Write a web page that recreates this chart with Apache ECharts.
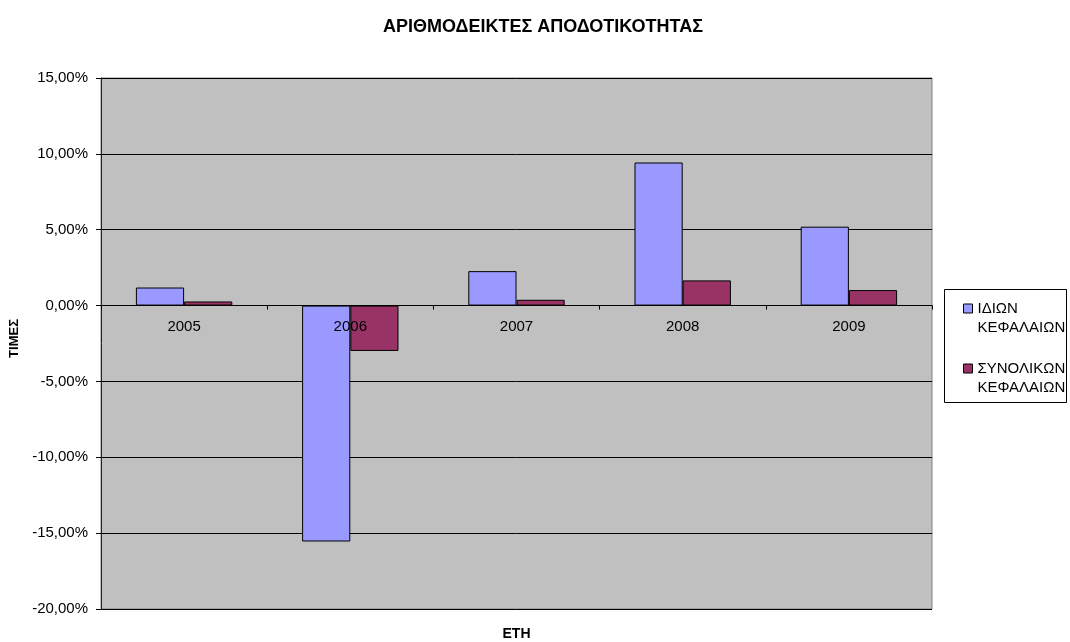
<!DOCTYPE html>
<html>
<head>
<meta charset="utf-8">
<script src="https://cdn.jsdelivr.net/npm/echarts@6/dist/echarts.min.js"></script>
<style>
  html, body { margin: 0; padding: 0; background: #fff; }
  #chart { width: 1070px; height: 642px; }
</style>
</head>
<body>
<div id="chart"></div>
<script>
// Return ratios per year (percent)
const years = ['2005', '2006', '2007', '2008', '2009'];
const equityReturn = [1.19, -15.55, 2.27, 9.43, 5.2];
const assetReturn = [0.27, -2.99, 0.38, 1.66, 1.02];
const seriesNames = ['ΙΔΙΩΝ\nΚΕΦΑΛΑΙΩΝ', 'ΣΥΝΟΛΙΚΩΝ\nΚΕΦΑΛΑΙΩΝ'];

const font = '"Liberation Sans", Arial, sans-serif';
const chart = echarts.init(document.getElementById('chart'));

// plot frame in pixels
const gridTop = 78, gridBottom = 33, chartH = 642;
const yMin = -20, yMax = 15;
// distance from the plot's bottom edge up to the zero line
const zeroLift = (chartH - gridBottom - gridTop) * (0 - yMin) / (yMax - yMin);

chart.setOption({
  animation: false,
  backgroundColor: '#ffffff',
  title: {
    text: 'ΑΡΙΘΜΟΔΕΙΚΤΕΣ ΑΠΟΔΟΤΙΚΟΤΗΤΑΣ',
    left: 538, top: 13, textAlign: 'center',
    textStyle: { fontFamily: font, fontSize: 18, fontWeight: 'bold', color: '#000' }
  },
  grid: {
    left: 101, right: 138, top: gridTop, bottom: gridBottom,
    containLabel: false,
    outerBoundsMode: 'none',
    show: true, backgroundColor: '#c0c0c0', borderColor: '#808080', borderWidth: 1
  },
  legend: {
    orient: 'vertical',
    left: 963, top: 280, padding: 0,
    itemWidth: 9, itemHeight: 9, itemGap: 3,
    icon: 'rect',
    // a blank leading line keeps the marker beside the first text line
    formatter: name => ' \n' + name,
    textStyle: { fontFamily: font, fontSize: 15, color: '#000', lineHeight: 19 },
    itemStyle: { borderColor: '#000', borderWidth: 1 }
  },
  graphic: [{
    type: 'rect',
    shape: { x: 944.5, y: 289.5, width: 122, height: 113 },
    style: { fill: 'none', stroke: '#000', lineWidth: 1 },
    z: -1
  }],
  xAxis: {
    type: 'category',
    data: years,
    z: 3,
    name: 'ΕΤΗ',
    nameLocation: 'middle',
    nameGap: 18,
    nameTextStyle: { fontFamily: font, fontSize: 14, fontWeight: 'bold', color: '#000' },
    axisLine: { onZero: true, lineStyle: { color: '#000', width: 1 } },
    axisTick: { show: true, length: 4, lineStyle: { color: '#000' } },
    // year labels sit just under the zero line, drawn over the bars
    axisLabel: { fontFamily: font, fontSize: 15, color: '#000', margin: 14 - zeroLift, hideOverlap: false },
    splitLine: { show: false }
  },
  yAxis: {
    type: 'value',
    min: yMin, max: yMax, interval: 5,
    name: 'ΤΙΜΕΣ',
    nameLocation: 'middle',
    nameGap: 78,
    nameRotate: 90,
    nameTextStyle: { fontFamily: font, fontSize: 13, fontWeight: 'bold', color: '#000', padding: [0, 0, 0, 10] },
    axisLine: { show: true, lineStyle: { color: '#222', width: 1 } },
    axisTick: { show: true, length: 5, lineStyle: { color: '#000' } },
    axisLabel: {
      fontFamily: font, fontSize: 15, color: '#000', margin: 13,
      formatter: v => v.toFixed(2).replace('.', ',') + '%'
    },
    splitLine: { show: true, lineStyle: { color: '#000', width: 1 } }
  },
  series: [
    {
      name: seriesNames[0], type: 'bar', data: equityReturn,
      barGap: '0%', barCategoryGap: '42%',
      itemStyle: { color: '#9999ff', borderColor: '#000', borderWidth: 1 }
    },
    {
      name: seriesNames[1], type: 'bar', data: assetReturn,
      itemStyle: { color: '#993366', borderColor: '#000', borderWidth: 1 }
    }
  ]
});
</script>
</body>
</html>
